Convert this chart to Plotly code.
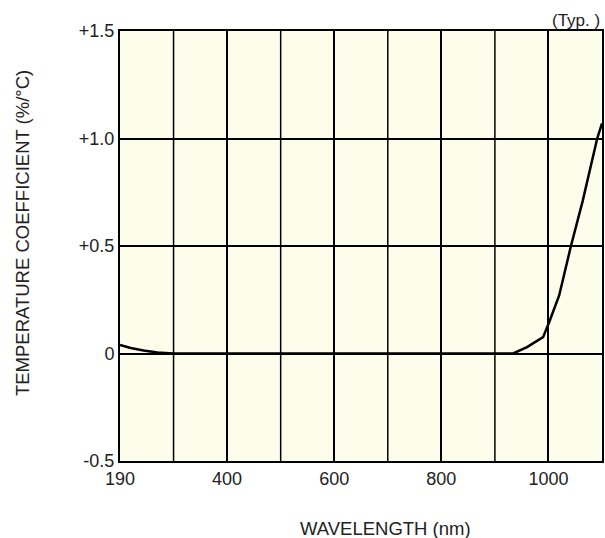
import plotly.graph_objects as go

wavelength = [200, 220, 244, 270, 300, 350, 400, 500, 600, 700, 800, 900, 934, 960, 990, 1002, 1020, 1042, 1064, 1091, 1100]
temp_coef = [0.04, 0.026, 0.014, 0.005, 0.0, 0.0, 0.0, 0.0, 0.0, 0.0, 0.0, 0.0, 0.0, 0.03, 0.076, 0.15, 0.27, 0.50, 0.71, 1.0, 1.07]

x_tickvals = [200, 400, 600, 800, 1000]
x_ticktext = ["190", "400", "600", "800", "1000"]
y_tickvals = [-0.5, 0, 0.5, 1.0, 1.5]
y_ticktext = ["-0.5", "0", "+0.5", "+1.0", "+1.5"]

font_family = "Liberation Sans, Arial, sans-serif"
text_color = "#222222"

fig = go.Figure()
fig.add_trace(go.Scatter(
    x=wavelength, y=temp_coef, mode="lines",
    line=dict(color="black", width=2.5),
    showlegend=False, hoverinfo="skip",
))

fig.update_layout(
    width=605, height=538,
    margin=dict(l=120, r=1, t=31, b=77),
    paper_bgcolor="white",
    plot_bgcolor="#FCFDEB",
    font=dict(family=font_family, size=18, color=text_color),
    xaxis=dict(
        range=[200, 1100],
        tickmode="array", tickvals=x_tickvals, ticktext=x_ticktext,
        showgrid=True, gridcolor="black", gridwidth=1.5,
        showline=True, linecolor="black", linewidth=2, mirror=True,
        ticks="", zeroline=False,
    ),
    yaxis=dict(
        range=[-0.5, 1.5],
        tickmode="array", tickvals=y_tickvals, ticktext=y_ticktext,
        showgrid=True, gridcolor="black", gridwidth=1.5,
        showline=True, linecolor="black", linewidth=2, mirror=True,
        ticks="", zeroline=False,
    ),
    annotations=[
        dict(
            text="(Typ. )", xref="paper", yref="paper", x=1, y=1,
            xanchor="right", yanchor="bottom", showarrow=False,
            font=dict(size=17, color=text_color), yshift=-1,
        ),
        dict(
            text="WAVELENGTH (nm)", xref="paper", yref="paper", x=0.55, y=0,
            xanchor="center", yanchor="middle", showarrow=False,
            font=dict(size=18.5, color=text_color), yshift=-67,
        ),
        dict(
            text="TEMPERATURE COEFFICIENT (%/°C)", xref="paper", yref="paper", x=0, y=0.53,
            xanchor="center", yanchor="middle", showarrow=False, textangle=-90,
            font=dict(size=18.5, color=text_color), xshift=-98,
        ),
    ],
)

# extra vertical grid lines at every 100 nm
for xv in [300, 500, 700, 900]:
    fig.add_vline(x=xv, line=dict(color="black", width=1.5), layer="below")

fig.write_html("out.html")
